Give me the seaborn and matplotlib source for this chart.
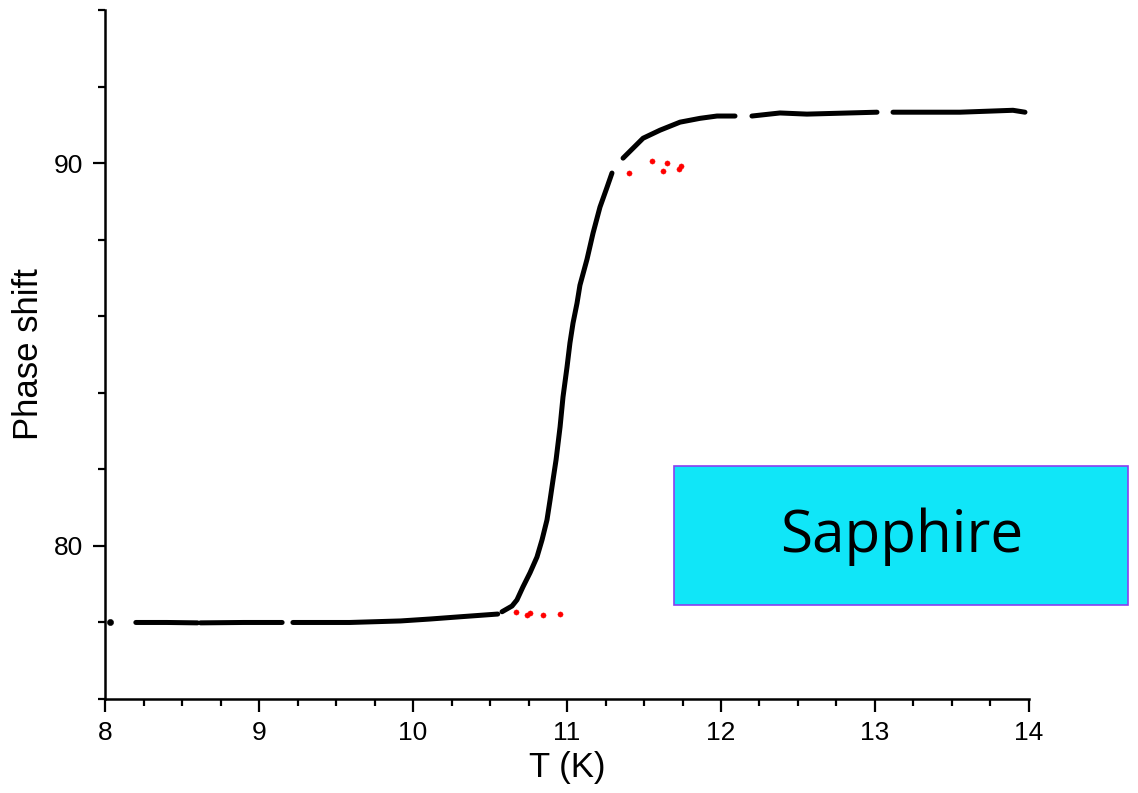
import numpy as np
import pandas as pd
import matplotlib
matplotlib.use("Agg")
import matplotlib.pyplot as plt
import seaborn as sns
from matplotlib.patches import Rectangle
from matplotlib.ticker import MultipleLocator

# black curve, one list per unbroken stretch
seg_T = [
    [8.20, 8.40, 8.60],
    [8.62, 8.90, 9.15],
    [9.22, 9.59, 9.92, 10.11, 10.31, 10.55],
    [10.578, 10.643, 10.675, 10.714, 10.760, 10.805, 10.838, 10.870, 10.890,
     10.909, 10.929, 10.955, 10.974, 11.000, 11.019, 11.039, 11.065, 11.084,
     11.130, 11.169, 11.214, 11.260, 11.292],
    [11.364, 11.429, 11.494, 11.604, 11.734, 11.864, 11.974, 12.091],
    [12.201, 12.383, 12.558, 13.013],
    [13.117, 13.552, 13.896, 13.974],
]
seg_P = [
    [78.00, 78.00, 77.99],
    [77.99, 78.00, 78.00],
    [78.00, 78.00, 78.04, 78.09, 78.15, 78.22],
    [78.28, 78.43, 78.59, 78.93, 79.30, 79.71, 80.16, 80.68, 81.20,
     81.72, 82.25, 83.11, 83.89, 84.67, 85.30, 85.82, 86.34, 86.81,
     87.49, 88.17, 88.85, 89.37, 89.74],
    [90.13, 90.39, 90.65, 90.86, 91.07, 91.17, 91.23, 91.23],
    [91.23, 91.31, 91.28, 91.33],
    [91.33, 91.33, 91.38, 91.33],
]
lone_T = [8.03]
lone_P = [78.02]

# red points
red_T = [10.669, 10.740, 10.760, 10.844, 10.955,
         11.403, 11.552, 11.623, 11.649, 11.727, 11.740]
red_P = [78.28, 78.20, 78.25, 78.20, 78.22,
         89.74, 90.05, 89.79, 90.00, 89.84, 89.92]

rows = []
for i, (ts, ps) in enumerate(zip(seg_T, seg_P)):
    for t, p in zip(ts, ps):
        rows.append((i, t, p))
df = pd.DataFrame(rows, columns=["seg", "T", "P"])

sns.set_style("ticks")
plt.rcParams['font.family'] = ['Liberation Sans', 'DejaVu Sans']
plt.rcParams['text.color'] = 'black'
plt.rcParams['axes.labelcolor'] = 'black'
plt.rcParams['xtick.color'] = 'black'
plt.rcParams['ytick.color'] = 'black'

fig = plt.figure(figsize=(11.38, 7.93), dpi=100)
ax = fig.add_axes([0.0923, 0.1185, 0.8119, 0.8689])

sns.lineplot(data=df, x="T", y="P", units="seg", estimator=None, sort=False,
             color="black", linewidth=3.6, solid_capstyle="round", ax=ax)
sns.scatterplot(x=lone_T, y=lone_P, color="black", s=20, edgecolor=None, ax=ax)
sns.scatterplot(x=red_T, y=red_P, color="#ff0000", s=14, edgecolor=None, ax=ax)

ax.set_xlim(8, 14)
ax.set_ylim(76, 94)
ax.xaxis.set_major_locator(MultipleLocator(1))
ax.xaxis.set_minor_locator(MultipleLocator(0.25))
ax.yaxis.set_major_locator(MultipleLocator(10))
ax.yaxis.set_minor_locator(MultipleLocator(2))
ax.tick_params(which="major", length=9, width=1.6, labelsize=19, direction="out", pad=7)
ax.tick_params(which="minor", length=5, width=1.6, direction="out")
for s in ["left", "bottom"]:
    ax.spines[s].set_linewidth(1.8)
    ax.spines[s].set_color("black")
sns.despine(ax=ax)
ax.set_xlabel("T (K)", fontsize=25, labelpad=4)
ax.set_ylabel("Phase shift", fontsize=25, labelpad=6)

fig.patches.append(Rectangle((0.5923, 0.2371), 0.3989, 0.1753, transform=fig.transFigure,
                             facecolor="#10e6f8", edgecolor="#8a3ff0", linewidth=1.2))
fig.text(0.792, 0.323, "Sapphire", fontsize=42, family=["Open Sans", "DejaVu Sans"],
         color="black", ha="center", va="center")

fig.savefig("out.png", dpi=100)
